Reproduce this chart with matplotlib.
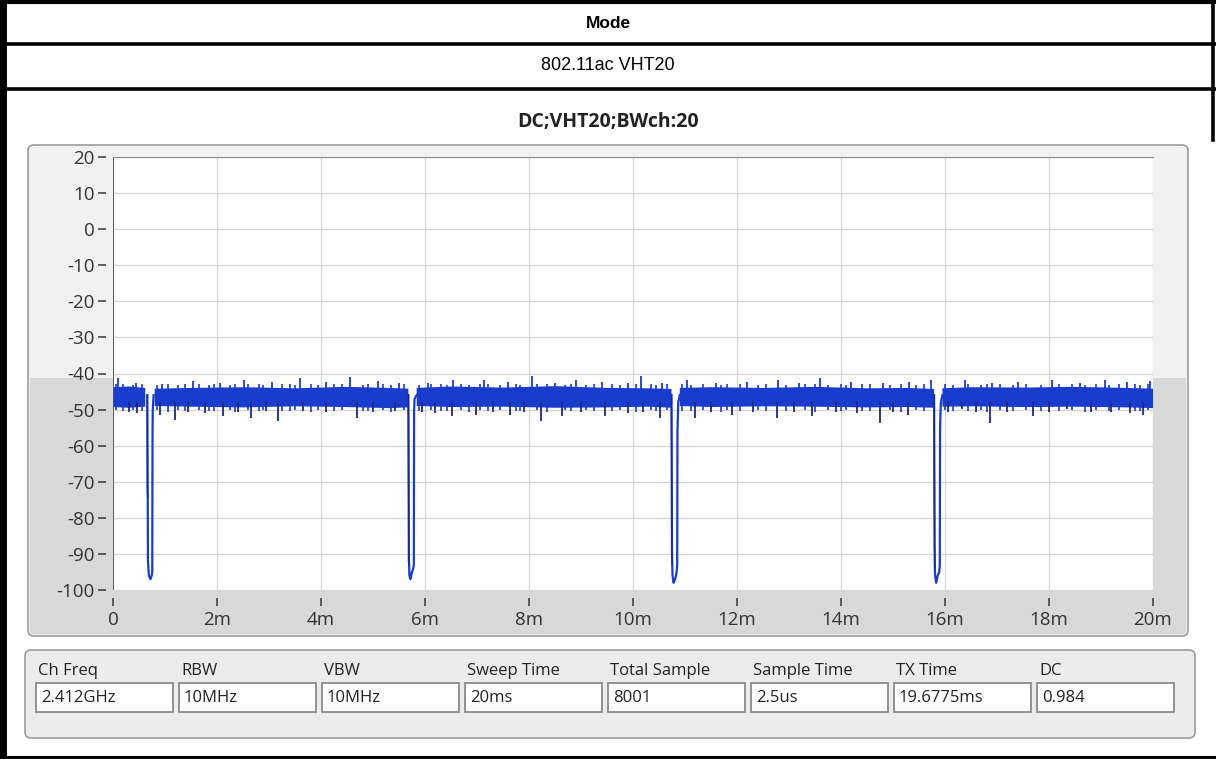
import numpy as np
import matplotlib
matplotlib.use("Agg")
import matplotlib.pyplot as plt
from matplotlib.patches import Rectangle, FancyBboxPatch

# ---- data (time in ms, level in dB) ----
# band envelope of the noisy trace, NaN where the trace drops into a gap
env_t = [0.0, 0.3, 0.62, 0.72, 0.80, 1.5, 2.5, 3.5, 4.5, 5.3, 5.68,
         5.76, 5.84, 6.5, 7.5, 8.5, 9.5, 10.3, 10.74,
         10.81, 10.90, 11.5, 12.5, 13.5, 14.5, 15.3, 15.79,
         15.86, 15.95, 16.5, 17.5, 18.5, 19.5, 20.0]
env_hi = [-43.8, -43.6, -44.0, np.nan, -44.2, -44.0, -43.8, -44.1, -43.7, -44.0, -44.2,
          np.nan, -44.0, -43.6, -43.9, -43.5, -44.0, -44.1, -44.3,
          np.nan, -44.0, -43.8, -44.0, -43.7, -44.1, -44.0, -44.3,
          np.nan, -44.1, -43.8, -43.9, -43.7, -44.0, -44.2]
env_lo = [-49.3, -49.5, -49.2, np.nan, -49.0, -49.2, -49.4, -49.1, -49.3, -49.6, -49.4,
          np.nan, -49.0, -49.3, -49.2, -49.5, -49.4, -49.2, -49.5,
          np.nan, -49.0, -49.3, -49.1, -49.2, -49.4, -49.3, -49.5,
          np.nan, -49.2, -49.1, -49.3, -49.2, -49.4, -49.6]

# isolated spikes above / below the band
up_t = [0.10, 0.45, 0.95, 1.54, 2.05, 2.51, 3.05, 3.60, 4.10, 4.56, 5.10, 5.50,
        6.05, 6.54, 7.13, 7.60, 8.05, 8.50, 8.90, 9.40, 9.90, 10.15, 10.55,
        11.03, 11.60, 12.20, 12.79, 13.20, 13.60, 14.20, 14.81, 15.30, 15.74,
        16.38, 16.90, 17.40, 18.05, 18.60, 19.08, 19.50, 19.94]
up_v = [-41.2, -42.5, -42.8, -42.1, -42.6, -41.7, -42.4, -41.2, -42.3, -41.0, -42.2, -42.7,
        -42.5, -41.7, -41.7, -42.4, -40.7, -42.5, -41.7, -42.3, -42.6, -40.7, -42.5,
        -41.7, -42.6, -42.4, -41.7, -42.5, -41.2, -42.3, -42.6, -42.4, -41.7,
        -41.7, -42.5, -42.4, -41.7, -42.6, -41.7, -42.3, -42.1]
dn_t = [0.30, 0.46, 0.90, 1.19, 1.45, 1.77, 2.12, 2.40, 2.66, 2.95, 3.18, 3.66, 4.10, 4.69, 5.00, 5.42,
        5.95, 6.20, 6.51, 6.99, 7.30, 7.63, 7.90, 8.24, 8.63, 9.00, 9.46, 9.90, 10.20, 10.52,
        11.19, 11.50, 11.90, 12.30, 12.76, 13.10, 13.44, 13.90, 14.30, 14.75, 15.00, 15.29,
        16.05, 16.32, 16.60, 16.87, 17.20, 17.70, 18.00, 18.34, 18.80, 19.20, 19.55, 19.81]
dn_v = [-50.8, -50.9, -51.4, -52.8, -50.6, -50.9, -51.8, -50.7, -52.3, -50.5, -53.1, -50.5, -50.8, -52.3, -50.6, -50.5,
        -50.7, -50.9, -51.8, -51.4, -50.6, -51.4, -50.8, -53.2, -51.8, -50.7, -51.8, -50.9, -50.6, -52.3,
        -52.3, -50.7, -51.4, -50.8, -52.3, -50.6, -51.8, -50.7, -50.9, -53.7, -50.6, -51.4,
        -50.8, -49.9, -50.7, -53.7, -50.6, -51.8, -50.7, -49.9, -50.8, -50.6, -50.9, -51.4]

# short ripples on the band edges (the fuzz of the dense trace)
rip_t = [0.05, 0.20, 0.38, 0.55, 0.85, 1.05, 1.25, 1.38, 1.65, 1.85, 1.95, 2.25, 2.35, 2.60,
         2.80, 2.88, 3.25, 3.40, 3.50, 3.80, 3.95, 4.25, 4.40, 4.80, 4.90, 5.20, 5.35, 5.60,
         5.88, 6.12, 6.30, 6.42, 6.70, 6.85, 7.05, 7.22, 7.45, 7.75, 7.82, 8.15, 8.35, 8.70,
         8.80, 9.10, 9.25, 9.60, 9.75, 10.05, 10.35, 10.45, 10.65, 10.95, 11.12, 11.35, 11.70,
         11.80, 12.05, 12.40, 12.55, 12.95, 13.30, 13.50, 13.75, 14.00, 14.10, 14.40, 14.55,
         14.95, 15.15, 15.45, 15.60, 16.00, 16.15, 16.45, 16.70, 16.80, 17.05, 17.30, 17.55,
         17.85, 18.20, 18.45, 18.70, 18.90, 19.15, 19.35, 19.65, 19.75, 19.90]
rip_hi = [-43.0, -42.8, -43.2, -42.9, -43.1, -42.9, -43.3, -42.8, -43.0, -43.2, -42.9, -43.1, -42.8, -43.0,
          -42.9, -43.2, -43.0, -42.8, -43.1, -42.9, -43.2, -43.0, -42.8, -43.1, -42.9, -43.0, -43.2, -42.9,
          -43.1, -42.9, -43.0, -43.2, -42.8, -43.1, -42.9, -43.0, -43.2, -42.8, -43.1, -42.9, -43.0, -43.2,
          -42.8, -43.1, -43.0, -42.9, -43.2, -43.0, -42.8, -43.1, -42.9, -43.0, -43.2, -42.8, -43.1,
          -42.9, -43.0, -43.2, -42.8, -43.1, -42.9, -43.0, -43.2, -42.8, -43.1, -42.9, -43.0,
          -43.2, -42.8, -43.1, -42.9, -43.0, -43.2, -42.8, -43.1, -42.9, -43.0, -43.2, -42.8,
          -43.1, -42.9, -43.0, -43.2, -42.8, -43.1, -42.9, -43.0, -43.2, -42.8]
rip_lo = [-50.2, -50.5, -50.0, -50.4, -50.1, -50.6, -50.2, -50.4, -50.0, -50.5, -50.3, -50.1, -50.6, -50.2,
          -50.4, -50.0, -50.5, -50.3, -50.1, -50.6, -50.2, -50.4, -50.0, -50.5, -50.3, -50.1, -50.6, -50.2,
          -50.4, -50.0, -50.5, -50.3, -50.1, -50.6, -50.2, -50.4, -50.0, -50.5, -50.3, -50.1, -50.6, -50.2,
          -50.4, -50.0, -50.5, -50.3, -50.1, -50.6, -50.2, -50.4, -50.0, -50.5, -50.3, -50.1, -50.6,
          -50.2, -50.4, -50.0, -50.5, -50.3, -50.1, -50.6, -50.2, -50.4, -50.0, -50.5, -50.3,
          -50.1, -50.6, -50.2, -50.4, -50.0, -50.5, -50.3, -50.1, -50.6, -50.2, -50.4, -50.0,
          -50.5, -50.3, -50.1, -50.6, -50.2, -50.4, -50.0, -50.5, -50.3, -50.1]

# the four gaps (trace drops to the floor)
dip1_t = [0.66, 0.665, 0.668, 0.672, 0.69, 0.72, 0.745, 0.755, 0.76, 0.765, 0.78]
dip1_v = [-46.0, -73.0, -74.0, -92.0, -96.0, -97.0, -96.0, -95.0, -57.0, -50.0, -46.0]
dip2_t = [5.68, 5.69, 5.695, 5.70, 5.72, 5.75, 5.775, 5.785, 5.79, 5.80, 5.84]
dip2_v = [-46.0, -92.0, -93.0, -96.0, -97.0, -95.0, -94.0, -93.0, -50.0, -47.0, -46.0]
dip3_t = [10.74, 10.75, 10.755, 10.76, 10.78, 10.81, 10.84, 10.85, 10.855, 10.87, 10.90]
dip3_v = [-46.0, -90.0, -93.0, -96.0, -98.0, -97.0, -95.0, -93.0, -56.0, -48.0, -46.0]
dip4_t = [15.79, 15.80, 15.805, 15.81, 15.83, 15.86, 15.89, 15.90, 15.905, 15.92, 15.95]
dip4_v = [-46.0, -88.0, -94.0, -96.0, -98.0, -96.0, -95.0, -93.0, -55.0, -48.0, -46.0]

x_ticks = [0, 2, 4, 6, 8, 10, 12, 14, 16, 18, 20]
x_labels = ["0", "2m", "4m", "6m", "8m", "10m", "12m", "14m", "16m", "18m", "20m"]
y_ticks = [20, 10, 0, -10, -20, -30, -40, -50, -60, -70, -80, -90, -100]

header = "Mode"
mode_text = "802.11ac VHT20"
title = "DC;VHT20;BWch:20"
info_names = ["Ch Freq", "RBW", "VBW", "Sweep Time", "Total Sample", "Sample Time", "TX Time", "DC"]
info_values = ["2.412GHz", "10MHz", "10MHz", "20ms", "8001", "2.5us", "19.6775ms", "0.984"]

W, H = 1216, 759
ui_font = "Open Sans"
blue = "#1a3ccc"
dark = "#1c2a80"

fig = plt.figure(figsize=(W / 100, H / 100), dpi=100)
fig.patch.set_facecolor("white")

# background layer in pixel coordinates for the table and panels
bg = fig.add_axes([0, 0, 1, 1])
bg.set_xlim(0, W)
bg.set_ylim(H, 0)
bg.axis("off")

# table borders
bg.plot([0, W], [2, 2], color="black", lw=3)
bg.plot([0, W], [44, 44], color="black", lw=2.6)
bg.plot([0, W], [89, 89], color="black", lw=2.6)
bg.plot([0, W], [757, 757], color="black", lw=2.2)
bg.plot([3, 3], [0, H], color="black", lw=5)
bg.plot([1213, 1213], [0, 140], color="black", lw=2.6)

bg.text(W / 2, 23, header, ha="center", va="center", fontsize=12.5,
        fontweight="bold", family="Liberation Sans")
bg.text(W / 2, 66, mode_text, ha="center", va="center", fontsize=13,
        family="Liberation Sans")
bg.text(W / 2, 122, title, ha="center", va="center", fontsize=14,
        fontweight="bold", family=ui_font, color="#222222")

# graph frame
bg.add_patch(FancyBboxPatch((28, 145), 1160, 491, boxstyle="round,pad=0,rounding_size=6",
                            facecolor="#f1f1f1", edgecolor="#9c9c9c", lw=1.2))
bg.add_patch(Rectangle((30, 378), 1156, 256, facecolor="#d8d8d8", edgecolor="none"))

# info panel
bg.add_patch(FancyBboxPatch((25, 650), 1170, 88, boxstyle="round,pad=0,rounding_size=6",
                            facecolor="#ececec", edgecolor="#9c9c9c", lw=1.2))
for i, (name, val) in enumerate(zip(info_names, info_values)):
    x0 = 36 + 143 * i
    bg.text(x0 + 2, 671, name, ha="left", va="center", fontsize=12,
            family=ui_font, color="#222222")
    bg.add_patch(Rectangle((x0, 683), 137, 29, facecolor="white",
                           edgecolor="#8a8a8a", lw=1.3))
    bg.text(x0 + 5, 698, val, ha="left", va="center", fontsize=12,
            family=ui_font, color="#222222")

# plot area
ax = fig.add_axes([113 / W, (H - 590) / H, 1040 / W, 433 / H])
ax.set_facecolor("white")
ax.set_xlim(0, 20)
ax.set_ylim(-100, 20)
ax.set_xticks(x_ticks)
ax.set_xticklabels(x_labels)
ax.set_yticks(y_ticks)
ax.set_yticklabels([str(v) for v in y_ticks])
ax.grid(True, color="#d4d4d4", lw=0.9)
ax.set_axisbelow(True)
for s in ["right", "bottom", "left"]:
    ax.spines[s].set_visible(False)
ax.spines["top"].set_color("#8c8c8c")
ax.spines["left"].set_position(("outward", 5))
ax.spines["bottom"].set_position(("outward", 6))
ax.axvline(0, color="#555555", lw=1.3)
ax.tick_params(axis="both", direction="out", length=6, width=1.2, color="#444444",
               labelsize=13.5, labelcolor="#333333")
ax.tick_params(axis="x", pad=3)
ax.tick_params(axis="y", pad=2)
for lab in ax.get_xticklabels() + ax.get_yticklabels():
    lab.set_family(ui_font)

ax.fill_between(env_t, env_lo, env_hi, color=blue, lw=0)
ax.vlines(rip_t, -45.0, rip_hi, color=blue, lw=1.2)
ax.vlines(rip_t, -48.0, rip_lo, color=blue, lw=1.2)
ax.vlines(up_t, -45.0, up_v, color=blue, lw=1.3)
ax.vlines(dn_t, -48.0, dn_v, color=dark, lw=1.3)
for dt, dv in [(dip1_t, dip1_v), (dip2_t, dip2_v), (dip3_t, dip3_v), (dip4_t, dip4_v)]:
    ax.plot(dt, dv, color=blue, lw=1.6)
    ax.plot(dt[:3], dv[:3], color=dark, lw=1.0)

fig.savefig("out.png", dpi=100)
